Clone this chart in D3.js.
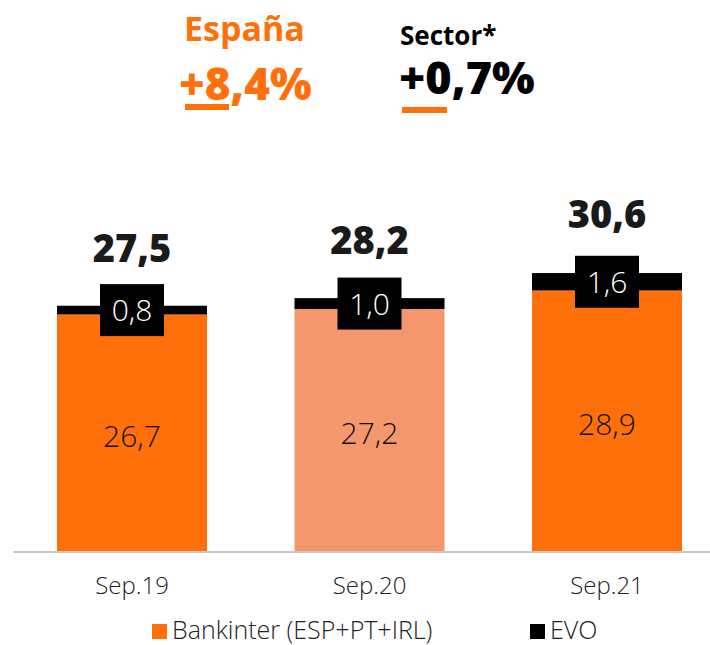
<!DOCTYPE html>
<html>
<head>
<meta charset="utf-8">
<script src="https://cdn.jsdelivr.net/npm/d3@7/dist/d3.min.js"></script>
<style>
  html, body { margin: 0; padding: 0; background: #fff; }
  svg { display: block; font-family: "Open Sans", "DejaVu Sans", sans-serif; }
</style>
</head>
<body>
<svg id="chart" width="710" height="645"></svg>
<script>
const categories = ["Sep.19", "Sep.20", "Sep.21"];
const bankinter = [26.7, 27.2, 28.9];
const evo = [0.8, 1.0, 1.6];
const totals = [27.5, 28.2, 30.6];
const bankinterLabels = ["26,7", "27,2", "28,9"];
const evoLabels = ["0,8", "1,0", "1,6"];
const totalLabels = ["27,5", "28,2", "30,6"];
const seriesNames = ["Bankinter (ESP+PT+IRL)", "EVO"];
const headerTitles = ["España", "Sector*"];
const headerValues = ["+8,4%", "+0,7%"];

const ORANGE = "#ff700a", LIGHT = "#f4976c", BLACK = "#000000";
const barColors = [ORANGE, LIGHT, ORANGE];

const svg = d3.select("#chart");

const x = d3.scaleBand().domain(categories)
  .range([13.3, 725.7]).paddingInner(0.3684).paddingOuter(0.184);
const baseY = 551;
const y = d3.scaleLinear().domain([5, 35]).range([baseY, baseY - 30 * 10.9]).clamp(true);

const data = categories.map((c, i) => ({
  c, b: bankinter[i], e: evo[i], t: totals[i],
  bl: bankinterLabels[i], el: evoLabels[i], tl: totalLabels[i], col: barColors[i]
}));

// Bankinter bars
svg.append("g").selectAll("rect").data(data).join("rect")
  .attr("x", d => x(d.c)).attr("width", x.bandwidth())
  .attr("y", d => y(d.b)).attr("height", d => y(0) - y(d.b))
  .attr("fill", d => d.col);

// EVO bars
svg.append("g").selectAll("rect").data(data).join("rect")
  .attr("x", d => x(d.c)).attr("width", x.bandwidth())
  .attr("y", d => y(d.b + d.e)).attr("height", d => y(d.b) - y(d.b + d.e))
  .attr("fill", BLACK);

// Axis
const axis = svg.append("g").attr("transform", `translate(0,${baseY})`)
  .call(d3.axisBottom(x).tickSize(0).tickPadding(0));
axis.select(".domain").remove();
axis.selectAll("text").remove();
svg.append("line").attr("x1", 13).attr("x2", 710).attr("y1", baseY + 1).attr("y2", baseY + 1)
  .attr("stroke", "#c8c8c8").attr("stroke-width", 2);

svg.append("g").selectAll("text").data(data).join("text")
  .attr("x", d => x(d.c) + x.bandwidth() / 2).attr("y", 594)
  .attr("text-anchor", "middle").attr("font-size", 24).attr("font-weight", 300)
  .attr("fill", "#222").text(d => d.c);

// Bankinter value labels
svg.append("g").selectAll("text").data(data).join("text")
  .attr("x", d => x(d.c) + x.bandwidth() / 2)
  .attr("y", d => (y(d.b) + y(0)) / 2 + 14)
  .attr("text-anchor", "middle").attr("font-size", 30).attr("font-weight", 300)
  .attr("fill", "#111").text(d => d.bl);

// EVO label boxes
const evoG = svg.append("g").selectAll("g").data(data).join("g")
  .attr("transform", d => `translate(${x(d.c) + x.bandwidth() / 2},${(y(d.b) + y(d.b + d.e)) / 2})`);
evoG.append("rect").attr("x", -32).attr("y", -26).attr("width", 64).attr("height", 52).attr("fill", BLACK);
evoG.append("text").attr("y", 11).attr("text-anchor", "middle")
  .attr("font-size", 30).attr("font-weight", 300).attr("fill", "#fff").text(d => d.el);

// Totals
svg.append("g").selectAll("text").data(data).join("text")
  .attr("x", d => x(d.c) + x.bandwidth() / 2)
  .attr("y", d => y(d.t) - 44)
  .attr("text-anchor", "middle").attr("font-size", 38).attr("font-weight", 800)
  .attr("fill", "#1a1a1a").text(d => d.tl);

// Header
svg.append("text").attr("x", 184).attr("y", 41).attr("font-size", 34).attr("font-weight", 700)
  .attr("fill", ORANGE).text(headerTitles[0]);
svg.append("text").attr("x", 179).attr("y", 100).attr("font-size", 44).attr("font-weight", 800)
  .attr("fill", ORANGE).text(headerValues[0]);
svg.append("rect").attr("x", 185).attr("y", 104).attr("width", 44).attr("height", 6).attr("fill", ORANGE);

svg.append("text").attr("x", 400).attr("y", 45).attr("font-size", 26).attr("font-weight", 700)
  .attr("fill", "#000").text(headerTitles[1]);
svg.append("text").attr("x", 399).attr("y", 94).attr("font-size", 45).attr("font-weight", 800)
  .attr("fill", "#000").text(headerValues[1]);
svg.append("rect").attr("x", 402).attr("y", 107).attr("width", 45).attr("height", 6).attr("fill", ORANGE);

// Legend
const legendItems = [
  { name: seriesNames[0], color: ORANGE, x: 152 },
  { name: seriesNames[1], color: BLACK, x: 530 }
];
const lg = svg.append("g").selectAll("g").data(legendItems).join("g")
  .attr("transform", d => `translate(${d.x},624)`);
lg.append("rect").attr("width", 15).attr("height", 15).attr("fill", d => d.color);
lg.append("text").attr("x", 20).attr("y", 15).attr("font-size", 25).attr("font-weight", 300)
  .attr("fill", "#222").text(d => d.name);
</script>
</body>
</html>
